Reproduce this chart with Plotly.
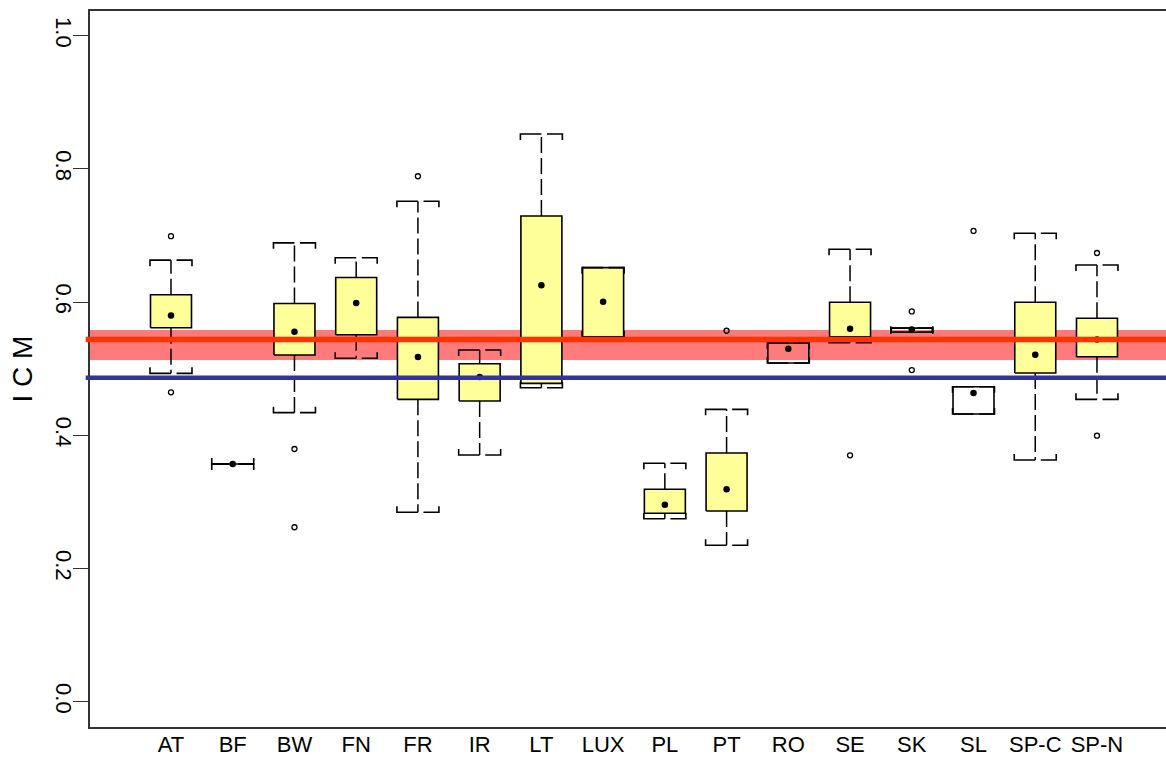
import plotly.graph_objects as go

categories = ["AT", "BF", "BW", "FN", "FR", "IR", "LT", "LUX",
              "PL", "PT", "RO", "SE", "SK", "SL", "SP-C", "SP-N"]
q1 = [0.5616, 0.357, 0.5206, 0.551, 0.454, 0.4515, 0.478, 0.548,
      0.283, 0.2863, 0.5086, 0.548, 0.5547, 0.432, 0.4935, 0.518]
q3 = [0.611, 0.357, 0.598, 0.637, 0.577, 0.5075, 0.7293, 0.6517,
      0.319, 0.3734, 0.5386, 0.5997, 0.561, 0.473, 0.5997, 0.5757]
lower_whisker = [0.493, 0.357, 0.434, 0.5156, 0.2844, 0.3704, 0.4715, 0.548,
                 0.2748, 0.2348, 0.5086, 0.539, 0.5547, 0.432, 0.363, 0.454]
upper_whisker = [0.663, 0.357, 0.689, 0.6667, 0.7515, 0.528, 0.8524, 0.6517,
                 0.358, 0.439, 0.5386, 0.6793, 0.561, 0.473, 0.7033, 0.6557]
means = [0.580, 0.357, 0.5556, 0.5986, 0.5176, 0.4875, 0.6252, 0.6006,
         0.2958, 0.319, 0.530, 0.560, 0.559, 0.4635, 0.521, 0.544]
outliers = [[0.699, 0.4646], [], [0.3794, 0.2619], [], [0.789], [], [], [],
            [], [0.557], [], [0.370], [0.586, 0.498], [0.7068], [], [0.6737, 0.3994]]
unfilled = ["BF", "RO", "SK", "SL"]

ref_mean = 0.544
ref_band = [0.513, 0.558]
ref_blue = 0.4865

y_ticks = [0.0, 0.2, 0.4, 0.6, 0.8, 1.0]
y_ticklabels = ["0.0", "0.2", "0.4", "0.6", "0.8", "1.0"]

HW = 0.332   # box half width (x units)
CW = 0.34    # cap half width
CD = 0.009   # cap bracket tick depth (y units)
GAP = 0.09   # gap in cap right of whisker

FONT = "Liberation Sans, Arial, Helvetica, sans-serif"

fig = go.Figure()

filled_x, filled_y, empty_x, empty_y = [], [], [], []
wx, wy, cx, cy = [], [], [], []
ox, oy = [], []
for i, c in enumerate(categories):
    bx = [i - HW, i + HW, i + HW, i - HW, i - HW, None]
    by = [q1[i], q1[i], q3[i], q3[i], q1[i], None]
    if c in unfilled:
        empty_x += bx; empty_y += by
    else:
        filled_x += bx; filled_y += by
    if upper_whisker[i] > q3[i]:
        wx += [i, i, None]; wy += [q3[i], upper_whisker[i], None]
    if lower_whisker[i] < q1[i]:
        wx += [i, i, None]; wy += [q1[i], lower_whisker[i], None]
    u = upper_whisker[i]
    cx += [i - CW, i - CW, i, None, i + GAP, i + CW, i + CW, None]
    cy += [u - CD, u, u, None, u, u, u - CD, None]
    lw = lower_whisker[i]
    cx += [i - CW, i - CW, i, None, i + GAP, i + CW, i + CW, None]
    cy += [lw + CD, lw, lw, None, lw, lw, lw + CD, None]
    for o in outliers[i]:
        ox.append(i); oy.append(o)

fig.add_trace(go.Scatter(x=filled_x, y=filled_y, mode="lines", fill="toself",
                         fillcolor="#FFFF99", line=dict(color="black", width=1.6),
                         hoverinfo="skip", showlegend=False))
fig.add_trace(go.Scatter(x=empty_x, y=empty_y, mode="lines",
                         line=dict(color="black", width=1.6),
                         hoverinfo="skip", showlegend=False))
fig.add_trace(go.Scatter(x=wx, y=wy, mode="lines",
                         line=dict(color="black", width=1.5, dash="16px,5px"),
                         hoverinfo="skip", showlegend=False))
fig.add_trace(go.Scatter(x=cx, y=cy, mode="lines",
                         line=dict(color="black", width=1.6),
                         hoverinfo="skip", showlegend=False))
fig.add_trace(go.Scatter(x=ox, y=oy, mode="markers",
                         marker=dict(symbol="circle-open", size=5, color="black",
                                     line=dict(width=1.3)),
                         showlegend=False))
fig.add_trace(go.Scatter(x=list(range(len(categories))), y=means, mode="markers",
                         marker=dict(symbol="circle", size=6.5, color="black"),
                         showlegend=False))

fig.add_shape(type="rect", xref="paper", yref="y", x0=0, x1=1,
              y0=ref_band[0], y1=ref_band[1], fillcolor="#FF7B7B",
              line=dict(width=0), layer="below")
fig.add_shape(type="line", xref="paper", yref="y", x0=-0.004, x1=1,
              y0=ref_mean, y1=ref_mean, line=dict(color="#FF3300", width=5.5),
              layer="above")
fig.add_shape(type="line", xref="paper", yref="y", x0=-0.004, x1=1,
              y0=ref_blue, y1=ref_blue, line=dict(color="#333399", width=4.5),
              layer="above")

fig.update_layout(
    width=1166, height=759, autosize=False,
    margin=dict(l=90, r=0, t=11, b=32),
    plot_bgcolor="white", paper_bgcolor="white",
    font=dict(family=FONT, color="black"),
    xaxis=dict(range=[-1.312, 16.118], tickmode="array",
               tickvals=list(range(len(categories))), ticktext=categories,
               showgrid=False, zeroline=False, showline=True, mirror=True,
               linecolor="#333333", linewidth=1.5, automargin=False,
               ticks="", ticklabelstandoff=-3,
               tickfont=dict(size=22, family=FONT)),
    yaxis=dict(range=[-0.038, 1.0371], tickmode="array", tickvals=y_ticks,
               ticktext=y_ticklabels, tickangle=90, automargin=False,
               showgrid=False, zeroline=False, showline=True,
               linecolor="#333333", linewidth=1.5,
               ticks="outside", ticklen=15, tickcolor="#333333", tickwidth=1.2,
               ticklabelstandoff=-9,
               tickfont=dict(size=22, family=FONT),
               title=dict(text="I C M", font=dict(size=28, family=FONT), standoff=10)),
)

fig.write_html("out.html")
